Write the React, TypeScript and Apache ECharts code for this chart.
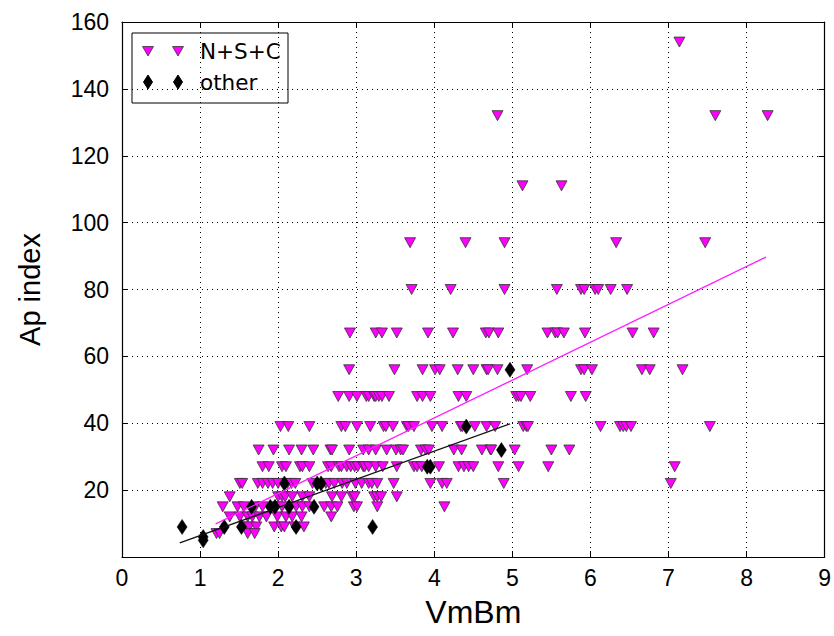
import React, { useEffect, useRef } from "react";
import * as echarts from "echarts";

// Ap-index rows (discrete ap values) and the VmBm values observed at each row, N+S+C events
const nscRows: [number, number[]][] = [
  [154, [7.14]],
  [132, [4.81, 7.6, 8.27]],
  [111, [5.13, 5.63]],
  [94, [3.69, 4.4, 4.9, 6.33, 7.47]],
  [80, [3.71, 4.21, 4.9, 5.57, 5.88, 5.92, 6.06, 6.1, 6.26, 6.47]],
  [67, [2.92, 3.25, 3.33, 3.52, 3.92, 4.24, 4.66, 4.7, 4.82, 5.45, 5.55, 5.58, 5.66, 5.93, 6.54, 6.81]],
  [56, [2.91, 3.49, 3.85, 4.01, 4.07, 4.3, 4.5, 4.67, 4.69, 4.81, 5.19, 5.88, 5.92, 6.02, 6.66, 6.76, 7.18]],
  [48, [2.77, 2.91, 3.01, 3.13, 3.16, 3.23, 3.25, 3.29, 3.33, 3.42, 3.78, 3.85, 3.95, 4.31, 4.41, 5.05, 5.08, 5.11, 5.23, 5.75, 5.94]],
  [39, [2.03, 2.13, 2.4, 2.81, 2.86, 3.01, 3.18, 3.35, 3.38, 3.47, 3.65, 3.67, 3.74, 3.97, 4.1, 4.34, 4.36, 4.52, 4.67, 4.78, 5.14, 5.18, 5.2, 6.13, 6.38, 6.42, 6.46, 6.52, 7.53]],
  [32, [1.75, 1.94, 2.14, 2.3, 2.45, 2.67, 2.69, 2.91, 3.09, 3.16, 3.25, 3.39, 3.51, 3.57, 3.6, 3.83, 3.89, 3.93, 4.25, 4.35, 4.61, 4.72, 4.73, 5.03, 5.5, 5.73]],
  [27, [1.8, 1.88, 2.05, 2.1, 2.28, 2.31, 2.4, 2.64, 2.68, 2.78, 2.81, 2.88, 2.93, 2.98, 3.02, 3.09, 3.11, 3.16, 3.25, 3.34, 3.52, 3.74, 3.78, 3.84, 4.06, 4.31, 4.38, 4.44, 4.5, 4.82, 5.08, 5.46, 7.08]],
  [22, [1.51, 1.54, 1.74, 1.8, 1.87, 1.93, 2.0, 2.12, 2.17, 2.22, 2.44, 2.61, 2.65, 2.72, 2.82, 2.88, 2.99, 3.07, 3.16, 3.2, 3.27, 3.48, 3.95, 4.1, 4.16, 4.89, 7.03]],
  [18, [1.38, 2.0, 2.05, 2.09, 2.18, 2.31, 2.4, 2.69, 2.81, 2.95, 2.98, 3.23, 3.27, 3.32, 3.52]],
  [15, [1.29, 1.48, 1.56, 1.71, 1.8, 1.97, 2.05, 2.23, 2.31, 2.4, 2.59, 2.68, 2.76, 2.97, 3.01, 3.27, 4.13]],
  [12, [1.38, 1.51, 1.61, 1.67, 1.76, 1.85, 1.99, 2.1, 2.18, 2.3, 2.68]],
  [9, [1.57, 1.63, 1.72, 1.95, 2.04, 2.08, 2.21, 2.33]],
  [7, [1.21, 1.25, 1.61, 1.7]],
];

// "other" events
const otherX = [0.77, 1.04, 1.04, 1.31, 1.53, 1.66, 1.9, 1.96, 2.08, 2.14, 2.23, 2.46, 2.5, 2.55, 3.21, 3.91, 3.95, 4.41, 4.86, 4.97];
const otherY = [9, 6, 5, 9, 9, 15, 15, 15, 22, 15, 9, 15, 22, 22, 9, 27, 27, 39, 32, 56];

// linear fits (end points)
const fitNscX = [1.2, 8.25];
const fitNscY = [9.9, 89.7];
const fitOtherX = [0.74, 4.97];
const fitOtherY = [4.2, 39.8];

const xTicks = [0, 1, 2, 3, 4, 5, 6, 7, 8, 9];
const yTicks = [0, 20, 40, 60, 80, 100, 120, 140, 160];

const FONT = "'Liberation Sans', Arial, sans-serif";
const LEGEND_FONT = "'DejaVu Sans', sans-serif";

export default function App() {
  const ref = useRef<HTMLDivElement>(null);
  useEffect(() => {
    if (!ref.current) return;
    const chart = echarts.init(ref.current, undefined, { renderer: "svg" });
    const nscData: number[][] = [];
    nscRows.forEach(([ap, xs]) => xs.forEach((x) => nscData.push([x, ap])));
    const otherData = otherX.map((x, i) => [x, otherY[i]]);
    const fitNsc = fitNscX.map((x, i) => [x, fitNscY[i]]);
    const fitOther = fitOtherX.map((x, i) => [x, fitOtherY[i]]);

    const axisCommon = {
      type: "value" as const,
      axisLine: { show: true, onZero: false, lineStyle: { color: "#000", width: 1.2 } },
      axisTick: { show: true, inside: true, length: 6, lineStyle: { color: "#000", width: 1 } },
    };

    chart.setOption({
      animation: false,
      backgroundColor: "#fff",
      grid: { left: 122, right: 6, top: 22, bottom: 79, containLabel: false },
      xAxis: [
        {
          ...axisCommon,
          min: xTicks[0],
          max: xTicks[xTicks.length - 1],
          interval: 1,
          name: "VmBm",
          nameLocation: "middle",
          nameGap: 39,
          nameTextStyle: { fontSize: 32, color: "#000", fontFamily: FONT },
          axisLabel: { fontSize: 23, color: "#000", fontFamily: FONT, margin: 9 },
          splitLine: { show: true, lineStyle: { color: "#000", type: [1, 4], width: 1 } },
        },
        {
          ...axisCommon,
          position: "top",
          min: xTicks[0],
          max: xTicks[xTicks.length - 1],
          interval: 1,
          axisLabel: { show: false },
          splitLine: { show: false },
        },
      ],
      yAxis: [
        {
          ...axisCommon,
          min: yTicks[0],
          max: yTicks[yTicks.length - 1],
          interval: 20,
          name: "Ap index",
          nameLocation: "middle",
          nameGap: 78,
          nameTextStyle: { fontSize: 29, color: "#000", fontFamily: FONT },
          axisLabel: {
            fontSize: 23,
            color: "#000",
            fontFamily: FONT,
            margin: 13,
            formatter: (v: number) => (v === 0 ? "" : String(v)),
          },
          splitLine: { show: true, lineStyle: { color: "#000", type: [1, 4], width: 1 } },
        },
        {
          ...axisCommon,
          position: "right",
          min: yTicks[0],
          max: yTicks[yTicks.length - 1],
          interval: 20,
          axisLabel: { show: false },
          splitLine: { show: false },
        },
      ],
      series: [
        {
          type: "scatter",
          name: "N+S+C",
          data: nscData,
          symbol: "triangle",
          symbolRotate: 180,
          symbolSize: [11, 10],
          itemStyle: { color: "#ff00ff", borderColor: "#333", borderWidth: 0.8, opacity: 1 },
          z: 2,
        },
        {
          type: "scatter",
          name: "other",
          data: otherData,
          symbol: "diamond",
          symbolSize: [10, 15],
          itemStyle: { color: "#000", borderColor: "#000", borderWidth: 0.5, opacity: 1 },
          z: 3,
        },
        {
          type: "line",
          data: fitNsc,
          symbol: "none",
          lineStyle: { color: "#ff22ff", width: 1.3 },
          z: 4,
        },
        {
          type: "line",
          data: fitOther,
          symbol: "none",
          lineStyle: { color: "#111", width: 1.3 },
          z: 4,
        },
      ],
      graphic: [
        {
          type: "group",
          z: 100,
          children: [
            {
              type: "rect",
              shape: { x: 132, y: 33, width: 156, height: 70 },
              style: { fill: "#fff", stroke: "#000", lineWidth: 1 },
            },
            {
              type: "polygon",
              shape: { points: [[142.5, 46.5], [153.5, 46.5], [148, 56]] },
              style: { fill: "#ff00ff", stroke: "#333", lineWidth: 0.8 },
            },
            {
              type: "polygon",
              shape: { points: [[172.5, 46.5], [183.5, 46.5], [178, 56]] },
              style: { fill: "#ff00ff", stroke: "#333", lineWidth: 0.8 },
            },
            {
              type: "polygon",
              shape: { points: [[148, 75], [152.5, 82], [148, 89], [143.5, 82]] },
              style: { fill: "#000", stroke: "#000" },
            },
            {
              type: "polygon",
              shape: { points: [[178, 75], [182.5, 82], [178, 89], [173.5, 82]] },
              style: { fill: "#000", stroke: "#000" },
            },
            {
              type: "text",
              x: 200,
              y: 51,
              style: { text: "N+S+C", fontSize: 21.5, fontFamily: LEGEND_FONT, fill: "#000", verticalAlign: "middle" },
            },
            {
              type: "text",
              x: 200,
              y: 82,
              style: { text: "other", fontSize: 21.5, fontFamily: LEGEND_FONT, fill: "#000", verticalAlign: "middle" },
            },
          ],
        },
      ],
    });
    return () => chart.dispose();
  }, []);
  return <div ref={ref} style={{ width: 834, height: 636, position: "absolute", left: 0, top: 0 }} />;
}
